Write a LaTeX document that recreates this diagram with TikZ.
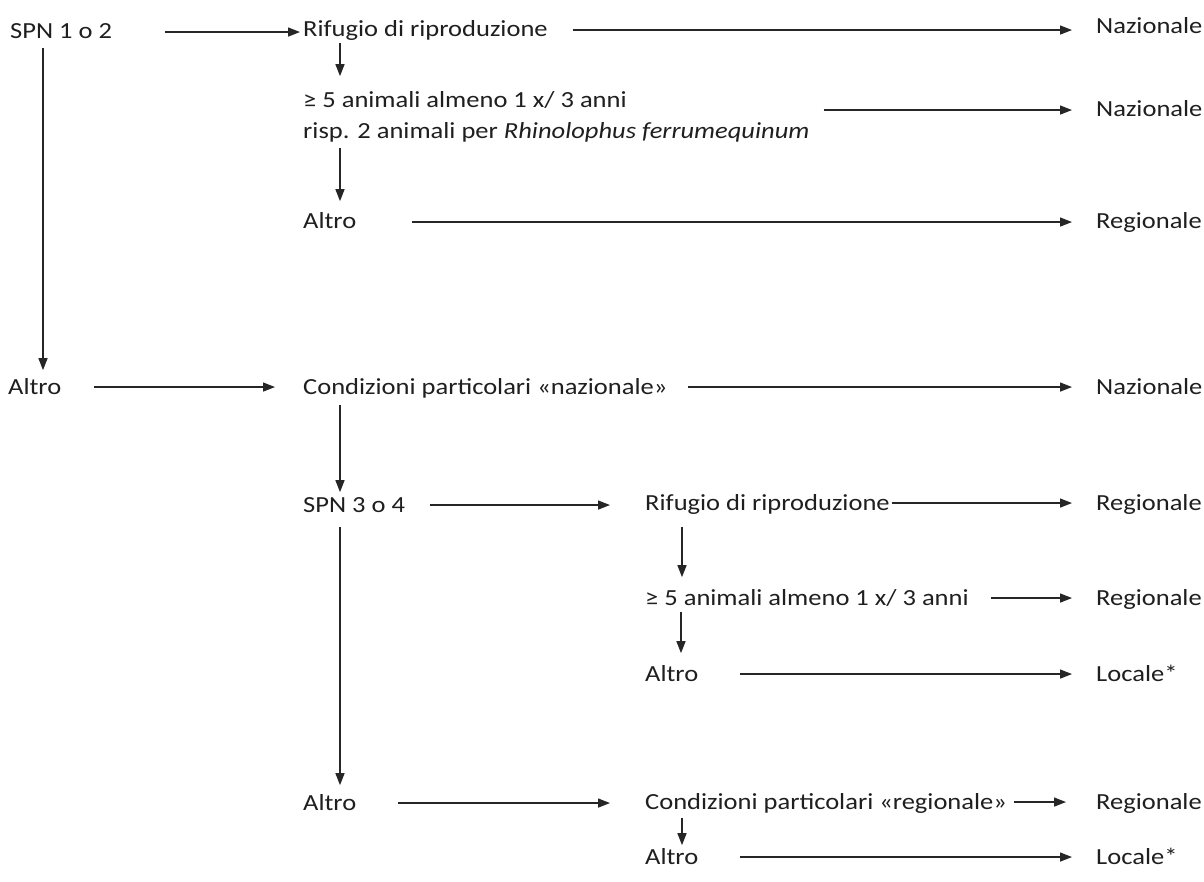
\documentclass[tikz,border=0pt]{standalone}
\usepackage{fontspec}
\setmainfont{Carlito}
\usetikzlibrary{arrows.meta}
\begin{document}
\begin{tikzpicture}[x=1pt,y=-1pt,
  txt/.style={anchor=base west, inner sep=0pt, text height=18pt, text depth=2pt,
    yscale=0.87, font=\fontsize{26.5}{31}\selectfont, text=black!88},
  arr/.style={draw=black!85, line width=1.4pt, -{Triangle[length=12pt,width=9pt]}}]
\useasboundingbox[fill=white] (0,0) rectangle (1204,882);
% nodes
\node[txt] (spn12) at (10,39) {SPN 1 o 2};
\node[txt] (rif1) at (303,37) {Rifugio di riproduzione};
\node[txt] (naz1) at (1096,34) {Nazionale};
\node[txt] (an1) at (303,108) {≥ 5 animali almeno 1 x/ 3 anni};
\node[txt] (an1b) at (303,139) {risp. 2 animali per \textit{Rhinolophus ferrumequinum}};
\node[txt] (naz2) at (1096,117) {Nazionale};
\node[txt] (alt1) at (303,229) {Altro};
\node[txt] (reg1) at (1096,229) {Regionale};
\node[txt] (alt0) at (8,394) {Altro};
\node[txt] (cond1) at (303,394) {Condizioni particolari «nazionale»};
\node[txt] (naz3) at (1096,394) {Nazionale};
\node[txt] (spn34) at (303,512) {SPN 3 o 4};
\node[txt] (rif2) at (645,510) {Rifugio di riproduzione};
\node[txt] (reg2) at (1096,510) {Regionale};
\node[txt] (an2) at (645,605) {≥ 5 animali almeno 1 x/ 3 anni};
\node[txt] (reg3) at (1096,605) {Regionale};
\node[txt] (alt2) at (645,681) {Altro};
\node[txt] (loc1) at (1096,681) {Locale*};
\node[txt] (alt3) at (303,810) {Altro};
\node[txt] (cond2) at (645,809) {Condizioni particolari «regionale»};
\node[txt] (reg4) at (1096,809) {Regionale};
\node[txt] (alt4) at (645,864) {Altro};
\node[txt] (loc2) at (1096,864) {Locale*};
% horizontal connectors
\draw[arr, shorten >=3pt] ([xshift=53pt]spn12.east) -- (spn12.east -| rif1.west);
\draw[arr, shorten >=24pt] ([xshift=25pt]rif1.east) -- (rif1.east -| naz1.west);
\coordinate (m2) at ([yshift=-9pt]an1.east);
\draw[arr, shorten >=24pt] ([xshift=14pt]an1b.east |- m2) -- (m2 -| naz2.west);
\draw[arr, shorten >=24pt] ([xshift=56pt]alt1.east) -- (alt1.east -| reg1.west);
\draw[arr, shorten >=28pt] ([xshift=33pt]alt0.east) -- (alt0.east -| cond1.west);
\draw[arr, shorten >=24pt] ([xshift=20pt]cond1.east) -- (cond1.east -| naz3.west);
\draw[arr, shorten >=35pt] ([xshift=25pt]spn34.east) -- (spn34.east -| rif2.west);
\draw[arr, shorten >=24pt] ([xshift=2pt]rif2.east) -- (rif2.east -| reg2.west);
\draw[arr, shorten >=24pt] ([xshift=22pt]an2.east) -- (an2.east -| reg3.west);
\draw[arr, shorten >=24pt] ([xshift=42pt]alt2.east) -- (alt2.east -| loc1.west);
\draw[arr, shorten >=35pt] ([xshift=42pt]alt3.east) -- (alt3.east -| cond2.west);
\draw[arr, shorten >=30pt] ([xshift=7pt]cond2.east) -- (cond2.east -| reg4.west);
\draw[arr, shorten >=24pt] ([xshift=42pt]alt4.east) -- (alt4.east -| loc2.west);
% vertical connectors
\draw[arr, shorten >=8pt] ([xshift=33pt,yshift=-7pt]spn12.south west) -- ([xshift=33pt]spn12.south west |- alt0.north);
\draw[arr, shorten >=16pt] ([xshift=37pt,yshift=-4pt]rif1.south west) -- ([xshift=37pt]rif1.south west |- an1.north);
\draw[arr, shorten >=12pt] ([xshift=37pt,yshift=-7pt]an1b.south west) -- ([xshift=37pt]an1b.south west |- alt1.north);
\draw[arr, shorten >=4pt] ([xshift=37pt,yshift=-9pt]cond1.south west) -- ([xshift=37pt]cond1.south west |- spn34.north);
\draw[arr, shorten >=9pt] ([xshift=37pt,yshift=-13pt]spn34.south west) -- ([xshift=37pt]spn34.south west |- alt3.north);
\draw[arr, shorten >=12pt] ([xshift=37pt,yshift=-15pt]rif2.south west) -- ([xshift=37pt]rif2.south west |- an2.north);
\draw[arr, shorten >=12pt] ([xshift=36pt,yshift=-5pt]an2.south west) -- ([xshift=36pt]an2.south west |- alt2.north);
\draw[arr, shorten >=3pt] ([xshift=37pt,yshift=-7pt]cond2.south west) -- ([xshift=37pt]cond2.south west |- alt4.north);
\end{tikzpicture}
\end{document}
